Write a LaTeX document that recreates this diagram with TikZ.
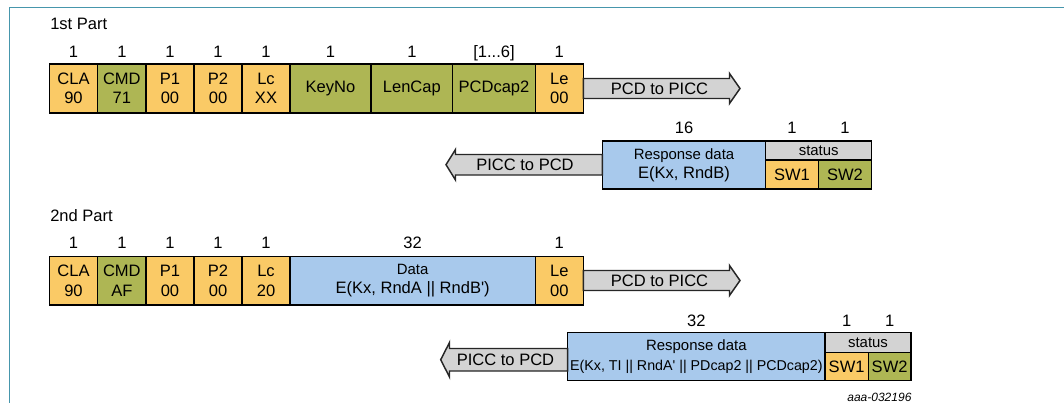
\documentclass[tikz,border=0pt]{standalone}
\usepackage{fontspec}
\setmainfont{Liberation Sans}
\definecolor{orng}{RGB}{250,202,102}
\definecolor{grn}{RGB}{174,182,84}
\definecolor{blu}{RGB}{168,201,236}
\definecolor{gry}{RGB}{211,211,211}
\definecolor{framec}{RGB}{70,150,172}
\newcommand\fmain{\fontsize{12.4}{14.5}\selectfont}
\newcommand\fsml{\fontsize{11.2}{13}\selectfont}
\newcommand\flong{\fontsize{10.7}{13}\selectfont}
% field box: style, name, x1, y1, x2, y2, text
\newcommand\fld[7]{%
  \pgfmathsetmacro\fldw{(#5-#3)*0.75}%
  \pgfmathsetmacro\fldh{(#6-#4)*0.75}%
  \node[#1, anchor=north west, minimum width=\fldw pt, minimum height=\fldh pt] (#2) at (#3,#4) {#7};}
\tikzset{
  box/.style={draw=black, line width=1.1pt, inner sep=0pt, outer sep=0pt, align=center, font=\fmain},
  ob/.style={box, fill=orng},
  gb/.style={box, fill=grn},
  bb/.style={box, fill=blu},
  sb/.style={box, fill=gry, font=\fsml},
  num/.style={font=\fmain, anchor=base, inner sep=0pt},
  ttl/.style={font=\fmain, anchor=base west, inner sep=0pt},
  arrbody/.style={draw=black!85, line width=1.1pt, fill=gry, line join=miter},
  lbl/.style={font=\fmain, inner sep=0pt}
}
\begin{document}
\begin{tikzpicture}[x=0.75pt, y=-0.75pt]
\useasboundingbox (0,0) rectangle (1064,403);
% frame
\draw[framec, line width=0.9pt] (9.5,403) -- (9.5,7.3) -- (1064,7.3);

% ---------- 1st part ----------
\node[ttl] (t1) at (50,29.7) {1st Part};
\fld{ob}{cla1}{49.3}{64}{97.7}{113}{CLA\\90}
\fld{gb}{cmd1}{97.7}{64}{146}{113}{CMD\\71}
\fld{ob}{pa1}{146}{64}{194}{113}{P1\\00}
\fld{ob}{pb1}{194}{64}{242}{113}{P2\\00}
\fld{ob}{lc1}{242}{64}{290}{113}{Lc\\XX}
\fld{gb}{key1}{290}{64}{371}{113}{KeyNo}
\fld{gb}{len1}{371}{64}{452.7}{113}{LenCap}
\fld{gb}{pcd1}{452.7}{64}{535.3}{113}{PCDcap2}
\fld{ob}{le1}{535.3}{64}{583.3}{113}{Le\\00}
\foreach \n/\t in {cla1/1, cmd1/1, pa1/1, pb1/1, lc1/1, key1/1, len1/1, pcd1/{[1...6]}, le1/1}
  \node[num] (n-\n) at (\n.north |- 0,57.4) {\t};

% arrow PCD to PICC (1)
\draw[arrbody] (le1.east |- 0,78.5) -- (729.5,78.5) -- (729.5,73.5) -- (740,88.5)
  -- (729.5,103.5) -- (729.5,98.5) -- (le1.east |- 0,98.5) -- cycle;
\node[lbl] (a1) at (659.5,88.5) {PCD to PICC};

% response 1
\fld{bb}{rd1}{602.3}{141}{765.7}{189}{{\fsml Response data}\\[0pt]E(Kx, RndB)}
\fld{sb}{st1}{765.7}{141}{871.7}{160}{status}
\fld{ob}{swa1}{765.7}{160}{818.3}{189}{SW1}
\fld{gb}{swb1}{818.3}{160}{871.7}{189}{SW2}
\node[num] (n-rd1) at (rd1.north |- 0,133.4) {16};
\node[num] (n-swa1) at (swa1.north |- 0,133.4) {1};
\node[num] (n-swb1) at (swb1.north |- 0,133.4) {1};
\draw[arrbody] (rd1.west |- 0,154.5) -- (455.5,154.5) -- (455.5,149.5) -- (446,164.7)
  -- (455.5,180) -- (455.5,175) -- (rd1.west |- 0,175) -- cycle;
\node[lbl] (a2) at (525,164.7) {PICC to PCD};

% ---------- 2nd part ----------
\node[ttl] (t2) at (50,221.7) {2nd Part};
\fld{ob}{cla2}{49.3}{256.7}{97.7}{305}{CLA\\90}
\fld{gb}{cmd2}{97.7}{256.7}{146}{305}{CMD\\AF}
\fld{ob}{pa2}{146}{256.7}{194}{305}{P1\\00}
\fld{ob}{pb2}{194}{256.7}{242}{305}{P2\\00}
\fld{ob}{lc2}{242}{256.7}{290}{305}{Lc\\20}
\fld{bb}{data2}{290}{256.7}{535.3}{305}{{\fsml Data}\\[0pt]E(Kx, RndA || RndB\textquotesingle)}
\fld{ob}{le2}{535.3}{256.7}{583.3}{305}{Le\\00}
\foreach \n/\t in {cla2/1, cmd2/1, pa2/1, pb2/1, lc2/1, data2/32, le2/1}
  \node[num] (n-\n) at (\n.north |- 0,248.4) {\t};

% arrow PCD to PICC (2)
\draw[arrbody] (le2.east |- 0,270.5) -- (729.5,270.5) -- (729.5,265.5) -- (740,280.5)
  -- (729.5,295.5) -- (729.5,290.5) -- (le2.east |- 0,290.5) -- cycle;
\node[lbl] (a3) at (659.5,280.5) {PCD to PICC};

% response 2
\fld{bb}{rd2}{567.7}{332.7}{825}{380.7}{{\fsml Response data}\\[0pt]{\flong E(Kx, TI || RndA\textquotesingle{} || PDcap2 || PCDcap2)}}
\fld{sb}{st2}{825}{332.7}{911}{352.3}{status}
\fld{ob}{swa2}{825}{352.3}{868.3}{380.7}{SW1}
\fld{gb}{swb2}{868.3}{352.3}{911}{380.7}{SW2}
\node[num] (n-rd2) at (rd2.north |- 0,326.4) {32};
\node[num] (n-swa2) at (swa2.north |- 0,326.4) {1};
\node[num] (n-swb2) at (swb2.north |- 0,326.4) {1};
\draw[arrbody] (rd2.west |- 0,348.5) -- (449.5,348.5) -- (449.5,342.5) -- (440.7,359.7)
  -- (449.5,377) -- (449.5,371) -- (rd2.west |- 0,371) -- cycle;
\node[lbl] (a4) at (505.5,359.7) {PICC to PCD};

\node[font=\fontsize{9}{11}\selectfont\itshape, anchor=base east, inner sep=0pt] (ref) at (911.7,401) {aaa-032196};
\end{tikzpicture}
\end{document}
